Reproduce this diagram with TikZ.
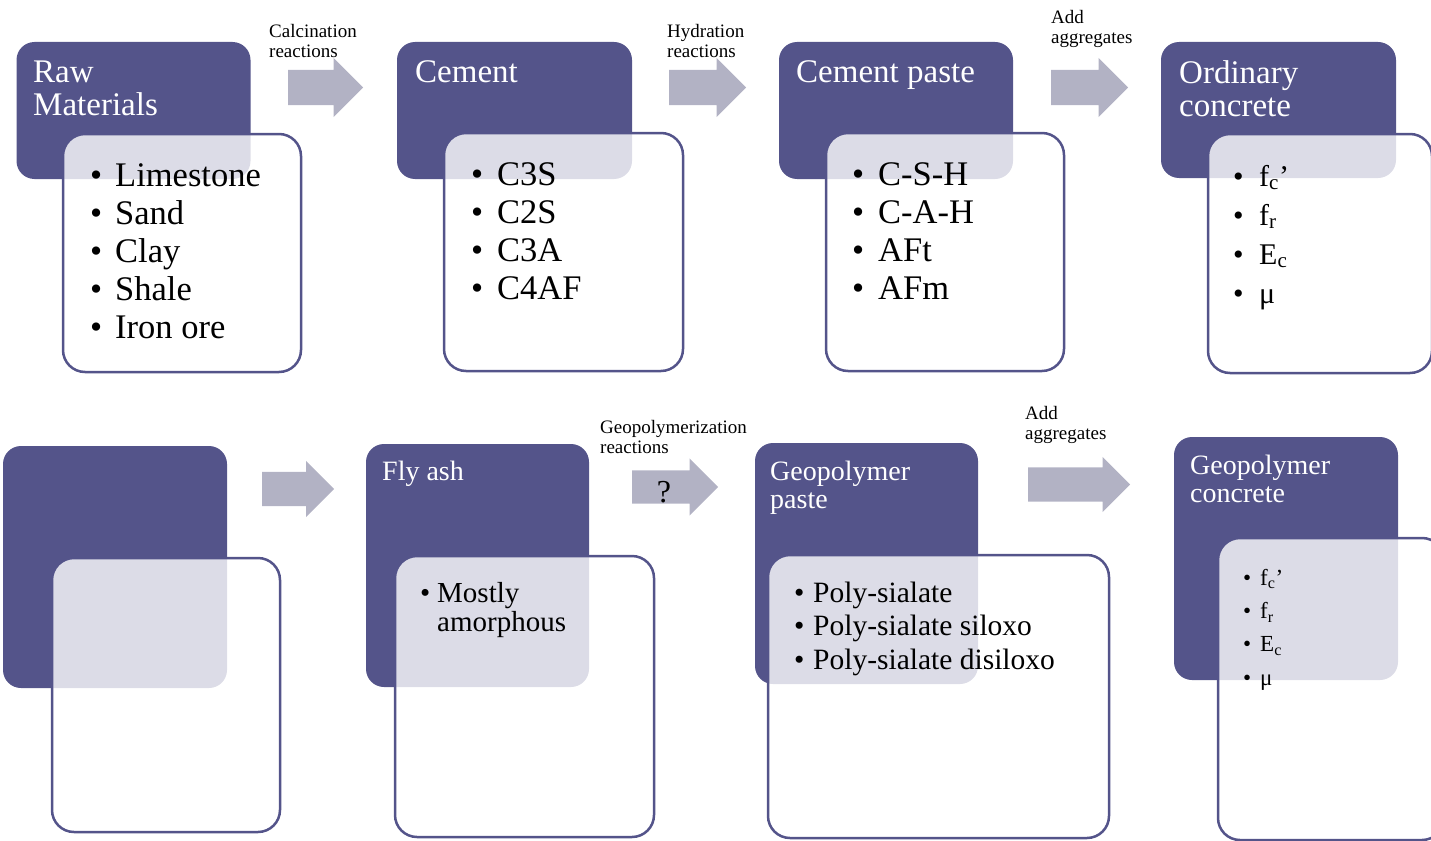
\documentclass[tikz,border=0pt]{standalone}
\usepackage{fontspec}
\setmainfont{Liberation Serif}
\usetikzlibrary{shapes.arrows}

\definecolor{stagepurple}{RGB}{84,84,138}
\definecolor{arrowgrey}{RGB}{178,178,196}

\tikzset{
  stagebox/.style={rectangle, rounded corners=18pt, fill=stagepurple, inner sep=0pt},
  itembox/.style={rectangle, rounded corners=22pt, draw=stagepurple, line width=2.5pt,
    fill=white, fill opacity=0.8, inner sep=0pt},
  flowarrow/.style={single arrow, single arrow head extend=12pt, fill=arrowgrey,
    inner xsep=0pt, inner ysep=17.5pt, anchor=tail},
  % multi-line nodes: base = baseline of the last line
  stagetitle/.style={anchor=base west, inner sep=0pt, align=left, text=white},
  itemlist/.style={anchor=base west, inner sep=0pt, align=left},
  reaction/.style={anchor=base west, inner sep=0pt, align=left, font=\fontsize{19}{20}\selectfont}
}
\newcommand{\bul}[1]{\makebox[#1][l]{•}}

\begin{document}
\begin{tikzpicture}[x=1pt, y=-1pt]
  \useasboundingbox (0,0) rectangle (1431,840);
  \clip (0,0) rectangle (1431,840);

  % top row: portland cement route
  \node[stagebox, minimum width=234pt, minimum height=137pt] (raw) at (133.5,110.5) {};
  \node[itembox, minimum width=238pt, minimum height=238pt] (rawlist) at (182,253) {};
  \node[stagebox, minimum width=235pt, minimum height=137pt] (cement) at (514.5,110.5) {};
  \node[itembox, minimum width=239pt, minimum height=238pt] (cementlist) at (563.5,252) {};
  \node[stagebox, minimum width=234pt, minimum height=137pt] (paste) at (896,110.5) {};
  \node[itembox, minimum width=238pt, minimum height=238pt] (pastelist) at (945,252) {};
  \node[stagebox, minimum width=235pt, minimum height=136pt] (ordinary) at (1278.5,110) {};
  \node[itembox, minimum width=224pt, minimum height=239pt] (ordinarylist) at (1320,253.5) {};

  \node[flowarrow, minimum height=75pt] (calcarrow) at (288,87.5) {};
  \node[flowarrow, minimum height=77pt] (hydrarrow) at (669,87.5) {};
  \node[flowarrow, minimum height=77pt] (aggarrow) at (1051,87.5) {};

  \node[reaction] (calclabel) at (269,58) {Calcination\\reactions};
  \node[reaction] (hydrlabel) at (667,58) {Hydration\\reactions};
  \node[reaction] (agglabel) at (1051,44) {Add\\aggregates};

  \node[stagetitle, font=\fontsize{33}{33}\selectfont] (rawtitle) at (33,116) {Raw\\Materials};
  \node[stagetitle, font=\fontsize{33}{33}\selectfont] (cementtitle) at (415,83) {Cement};
  \node[stagetitle, font=\fontsize{33}{33}\selectfont] (pastetitle) at (796,83) {Cement paste};
  \node[stagetitle, font=\fontsize{33}{33}\selectfont] (ordinarytitle) at (1179,117) {Ordinary\\concrete};

  \node[itemlist, font=\fontsize{34.5}{38}\selectfont] (rawitems) at (90,338)
    {\bul{25pt}Limestone\\\bul{25pt}Sand\\\bul{25pt}Clay\\\bul{25pt}Shale\\\bul{25pt}Iron ore};
  \node[itemlist, font=\fontsize{34.5}{38}\selectfont] (cementitems) at (471,299)
    {\bul{26pt}C3S\\\bul{26pt}C2S\\\bul{26pt}C3A\\\bul{26pt}C4AF};
  \node[itemlist, font=\fontsize{34.5}{38}\selectfont] (pasteitems) at (852,299)
    {\bul{26pt}C-S-H\\\bul{26pt}C-A-H\\\bul{26pt}AFt\\\bul{26pt}AFm};
  \node[itemlist, font=\fontsize{30}{39}\selectfont] (ordinaryitems) at (1233,303)
    {\bul{26pt}f\textsubscript{c}’\\\bul{26pt}f\textsubscript{r}\\\bul{26pt}E\textsubscript{c}\\\bul{26pt}μ};

  % bottom row: geopolymer route
  \node[stagebox, minimum width=224pt, minimum height=242pt] (blank) at (115,567) {};
  \node[itembox, minimum width=228pt, minimum height=274pt] (blanklist) at (166,695) {};
  \node[stagebox, minimum width=223pt, minimum height=243pt] (flyash) at (477.5,565.5) {};
  \node[itembox, minimum width=259pt, minimum height=281pt] (flyashlist) at (524.5,696.5) {};
  \node[stagebox, minimum width=223pt, minimum height=241pt] (geopaste) at (866.5,563.5) {};
  \node[itembox, minimum width=341pt, minimum height=283pt] (geopastelist) at (938.5,696.5) {};
  \node[stagebox, minimum width=224pt, minimum height=243pt] (geoconc) at (1286,558.5) {};
  \node[itembox, minimum width=226pt, minimum height=302pt] (geoconclist) at (1331,689) {};

  \node[flowarrow, minimum height=72pt, inner ysep=17pt, single arrow head extend=11pt] (blankarrow) at (262,489) {};
  \node[flowarrow, minimum height=86pt, inner ysep=16.5pt] (geoarrow) at (632,487) {};
  \node[flowarrow, minimum height=102pt, inner ysep=17pt, single arrow head extend=10.5pt] (geoaggarrow) at (1028,484.5) {};
  \node[font=\fontsize{32}{32}\selectfont, inner sep=0pt] (unknown) at (664,492) {?};

  \node[reaction] (geolabel) at (600,453) {Geopolymerization\\reactions};
  \node[reaction] (geoagglabel) at (1025,439) {Add\\aggregates};

  \node[stagetitle, font=\fontsize{28}{28}\selectfont] (flyashtitle) at (382,480) {Fly ash};
  \node[stagetitle, font=\fontsize{28}{28}\selectfont] (geopastetitle) at (770,508) {Geopolymer\\paste};
  \node[stagetitle, font=\fontsize{28}{28}\selectfont] (geoconctitle) at (1190,502) {Geopolymer\\concrete};

  \node[itemlist, font=\fontsize{29}{29}\selectfont] (flyashitems) at (420,631)
    {\bul{17pt}Mostly\\\makebox[17pt]{}amorphous};
  \node[itemlist, font=\fontsize{29.5}{33.5}\selectfont] (geopasteitems) at (794,669)
    {\bul{19pt}Poly-sialate\\\bul{19pt}Poly-sialate siloxo\\\bul{19pt}Poly-sialate disiloxo};
  \node[itemlist, font=\fontsize{23}{33.3}\selectfont] (geoconcitems) at (1243,685)
    {\bul{17pt}f\textsubscript{c}’\\\bul{17pt}f\textsubscript{r}\\\bul{17pt}E\textsubscript{c}\\\bul{17pt}μ};
\end{tikzpicture}
\end{document}
